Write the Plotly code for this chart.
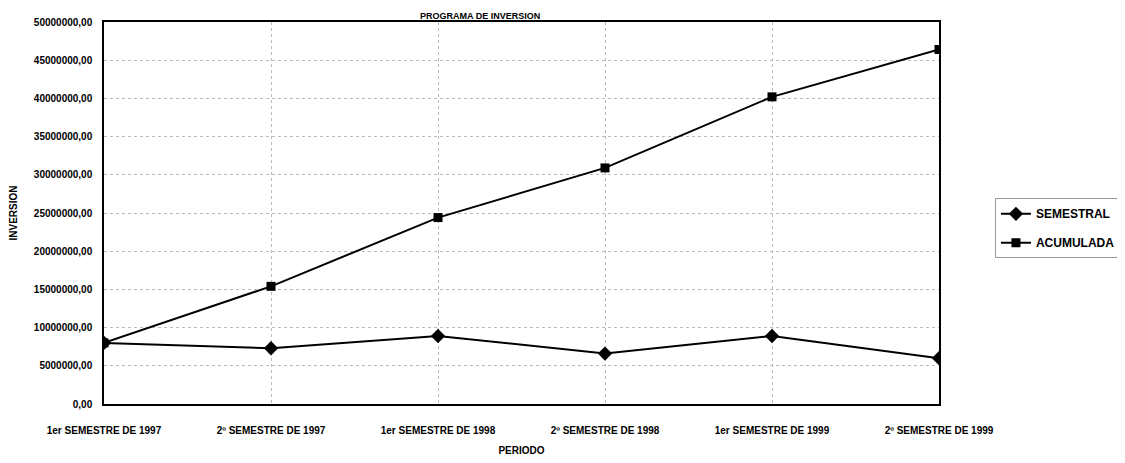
import plotly.graph_objects as go

periodos = ["1er SEMESTRE DE 1997", "2º SEMESTRE DE 1997", "1er SEMESTRE DE 1998",
            "2º SEMESTRE DE 1998", "1er SEMESTRE DE 1999", "2º SEMESTRE DE 1999"]
semestral = [8000000, 7300000, 8900000, 6600000, 8900000, 6000000]
acumulada = [8000000, 15400000, 24400000, 30900000, 40200000, 46400000]
y_ticks = [0, 5000000, 10000000, 15000000, 20000000, 25000000, 30000000,
           35000000, 40000000, 45000000, 50000000]
y_ticktext = ["0,00", "5000000,00", "10000000,00", "15000000,00", "20000000,00",
              "25000000,00", "30000000,00", "35000000,00", "40000000,00",
              "45000000,00", "50000000,00"]

FONT = "Liberation Sans Narrow, Arial Narrow, Liberation Sans, sans-serif"

fig = go.Figure()
fig.add_trace(go.Scatter(x=periodos, y=semestral, name="<b>SEMESTRAL</b>", mode="lines+markers",
                         legendgroup="a",
                         line=dict(color="black", width=2),
                         marker=dict(symbol="diamond", size=11, color="black")))
fig.add_trace(go.Scatter(x=periodos, y=acumulada, name="<b>ACUMULADA</b>", mode="lines+markers",
                         legendgroup="b",
                         line=dict(color="black", width=2),
                         marker=dict(symbol="square", size=9, color="black")))

fig.update_layout(
    width=1125, height=463,
    margin=dict(l=96, r=180, t=14, b=67),
    paper_bgcolor="white", plot_bgcolor="white",
    font=dict(family=FONT, color="black", size=10),
    legend=dict(x=1.067, y=0.46, xanchor="left", yanchor="middle",
                bordercolor="#999", borderwidth=1, bgcolor="white",
                font=dict(size=12, family=FONT), tracegroupgap=10),
    showlegend=True,
)
fig.add_annotation(text="<b>PROGRAMA DE INVERSION</b>", xref="paper", yref="paper",
                   x=0.45, y=1.0, xanchor="center", yanchor="bottom", showarrow=False,
                   font=dict(size=9, family=FONT), borderpad=0, yshift=0)
fig.update_xaxes(
    type="category", range=[0, 5], automargin=False,
    showline=True, linecolor="black", linewidth=1.5, mirror=True,
    showgrid=True, gridcolor="#bbb", griddash="dot", gridwidth=1,
    ticks="", tickfont=dict(size=10, family=FONT), ticklabelstandoff=16,
    title=dict(text="<b>PERIODO</b>", font=dict(size=10, family=FONT), standoff=12),
)
fig.update_yaxes(
    range=[0, 50000000], tickvals=y_ticks, ticktext=[f"<b>{t}</b>" for t in y_ticktext],
    automargin=False,
    showline=True, linecolor="black", linewidth=1.5, mirror=True,
    showgrid=True, gridcolor="#bbb", griddash="dot", gridwidth=1,
    zeroline=False, ticks="", tickfont=dict(size=10, family=FONT), ticklabelstandoff=8,
    title=dict(text="<b>INVERSION</b>", font=dict(size=10, family=FONT), standoff=20),
)
fig.update_xaxes(ticktext=[f"<b>{p}</b>" for p in periodos], tickvals=periodos)

fig.write_html("out.html")
